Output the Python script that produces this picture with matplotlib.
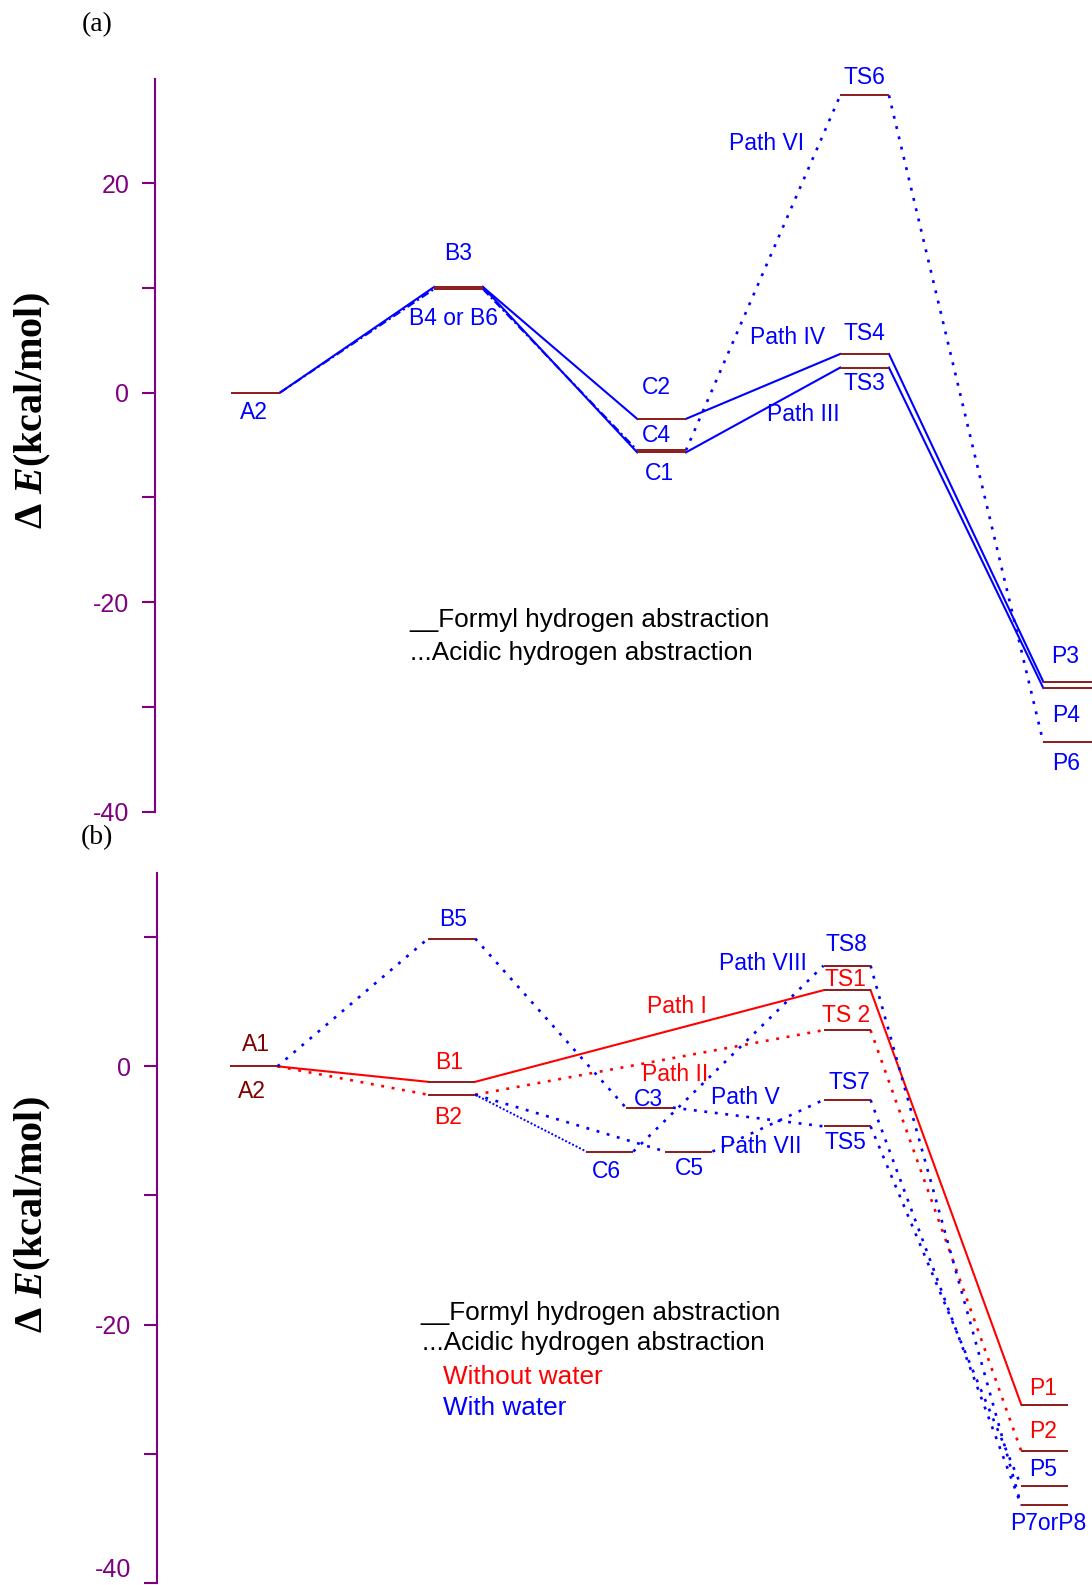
import matplotlib

matplotlib.use("Agg")
import matplotlib.pyplot as plt
from matplotlib.transforms import ScaledTranslation

PURPLE = "#800080"
BLUE = "#0000ff"
RED = "#ff0000"
LEVEL = "#8b1a1a"
DARKRED = "#800000"

plt.rcParams["font.family"] = ["Liberation Sans", "DejaVu Sans"]
plt.rcParams["mathtext.fontset"] = "custom"
plt.rcParams["mathtext.it"] = "Liberation Serif:italic:bold"
plt.rcParams["mathtext.rm"] = "Liberation Serif:bold"

# ---- panel (a): stationary points (reaction slot, energy in kcal/mol)
a_names = ["A2", "B3", "B46", "C2", "C4", "C1", "TS6", "TS4", "TS3", "P3", "P4", "P6"]
a_slot = [1, 2, 2, 3, 3, 3, 4, 4, 4, 5, 5, 5]
a_energy = [0.0, 10.1, 9.9, -2.5, -5.5, -5.7, 28.4, 3.7, 2.4, -27.6, -28.2, -33.4]

# connections: (from, to, style)
a_links = [
    ("A2", "B3", "solid"), ("B3", "C2", "solid"), ("B3", "C1", "solid"),
    ("C2", "TS4", "solid"), ("C1", "TS3", "solid"),
    ("TS4", "P3", "solid"), ("TS3", "P4", "solid"),
    ("A2", "B46", "dashdot"), ("B46", "C4", "dashdot"),
    ("C4", "TS6", "dot"), ("TS6", "P6", "dot"),
]

# ---- panel (b)
b_names = ["A", "B5", "B1", "B2", "C6", "C3", "C5", "TS8", "TS1", "TS2", "TS7", "TS5",
           "P1", "P2", "P5", "P78"]
b_slot = [1, 2, 2, 2, 2.8, 3.0, 3.2, 4, 4, 4, 4, 4, 5, 5, 5, 5]
b_energy = [0.0, 9.9, -1.2, -2.2, -6.6, -3.2, -6.6, 7.8, 5.9, 2.8, -2.6, -4.65,
            -26.2, -29.8, -32.5, -34.0]

b_links = [
    ("A", "B1", "solid", RED), ("B1", "TS1", "solid", RED), ("TS1", "P1", "solid", RED),
    ("A", "B2", "dot", RED), ("B2", "TS2", "dot", RED), ("TS2", "P2", "dot", RED),
    ("A", "B5", "dot", BLUE), ("B5", "C3", "dot", BLUE), ("C3", "TS5", "dot", BLUE),
    ("TS5", "P5", "dot", BLUE),
    ("B2", "C5", "dot", BLUE), ("C5", "TS7", "dot", BLUE), ("TS7", "P78", "dot", BLUE),
    ("B2", "C6", "finedot", BLUE), ("C6", "TS8", "dot", BLUE), ("TS8", "P78", "dot", BLUE),
]

STYLES = {
    "solid": dict(ls="-", lw=1.5),
    "dot": dict(ls=(0, (1.1, 2.9)), lw=1.9),
    "finedot": dict(ls=(0, (1.0, 1.0)), lw=1.4),
    "dashdot": dict(ls=(0, (4, 1.6, 1, 1.6)), lw=1.5),
}

# label layout (text, x, y, color) in data coordinates
a_text = [
    ("A2", 0.99, -1.9, BLUE), ("B3", 2.0, 13.3, BLUE), ("B4 or B6", 1.973, 7.1, BLUE),
    ("C2", 2.973, 0.5, BLUE), ("C4", 2.973, -4.1, BLUE), ("C1", 2.99, -7.7, BLUE),
    ("TS6", 4.0, 30.1, BLUE), ("TS4", 4.0, 5.7, BLUE), ("TS3", 4.0, 0.9, BLUE),
    ("Path VI", 3.515, 23.8, BLUE), ("Path IV", 3.623, 5.25, BLUE),
    ("Path III", 3.697, -2.1, BLUE),
    ("P3", 4.99, -25.2, BLUE), ("P4", 4.99, -30.8, BLUE), ("P6", 4.995, -35.4, BLUE),
]
b_text = [
    ("A1", 1.01, 1.68, DARKRED), ("A2", 0.99, -1.92, DARKRED),
    ("B5", 2.008, 11.35, BLUE), ("B1", 1.986, 0.3, RED), ("B2", 1.981, -4.0, RED),
    ("C3", 2.994, -2.54, BLUE), ("C6", 2.783, -8.11, BLUE), ("C5", 3.204, -7.9, BLUE),
    ("TS8", 3.996, 9.47, BLUE), ("TS1", 3.993, 6.7, RED), ("TS 2", 3.994, 3.9, RED),
    ("TS7", 4.01, -1.22, BLUE), ("TS5", 3.994, -5.9, BLUE),
    ("Path VIII", 3.576, 8.0, BLUE), ("Path I", 3.14, 4.6, RED),
    ("Path II", 3.128, -0.62, RED), ("Path V", 3.488, -2.45, BLUE),
    ("Path VII", 3.563, -6.24, BLUE),
    ("P1", 4.993, -24.96, RED), ("P2", 4.993, -28.3, RED), ("P5", 4.99, -31.26, BLUE),
    ("P7orP8", 5.018, -35.4, BLUE),
]
a_legend = [("__Formyl hydrogen abstraction", 1.759, -21.7, "black"),
            ("...Acidic hydrogen abstraction", 1.759, -24.9, "black")]
b_legend = [("__Formyl hydrogen abstraction", 1.843, -19.12, "black"),
            ("...Acidic hydrogen abstraction", 1.848, -21.45, "black"),
            ("Without water", 1.958, -24.03, RED),
            ("With water", 1.958, -26.5, BLUE)]


def style_axis(ax, ylim, xlim, ticks):
    ax.set_xlim(*xlim)
    ax.set_ylim(*ylim)
    for s in ("top", "right", "bottom"):
        ax.spines[s].set_visible(False)
    ax.spines["left"].set_color(PURPLE)
    ax.spines["left"].set_linewidth(1.5)
    ax.set_xticks([])
    ax.set_yticks(ticks)
    ax.set_yticklabels([str(t) if t % 20 == 0 else "" for t in ticks])
    ax.tick_params(axis="y", direction="out", length=9.5, width=1.5, color=PURPLE,
                   labelcolor=PURPLE, labelsize=18, pad=9)
    ax.patch.set_alpha(0)


def draw(ax, names, slot, energy, links, half, default_color=BLUE):
    pos = {n: (x, e) for n, x, e in zip(names, slot, energy)}
    for lk in links:
        a, b, st = lk[:3]
        col = lk[3] if len(lk) > 3 else default_color
        xa, ea = pos[a]
        xb, eb = pos[b]
        ax.plot([xa + half, xb - half], [ea, eb], color=col, clip_on=False,
                **STYLES[st])
    for x, e in zip(slot, energy):
        ax.plot([x - half, x + half], [e, e], color=LEVEL, lw=1.4, clip_on=False,
                solid_capstyle="butt", zorder=3)


def texts(ax, items, ha="center", size=16.5):
    for t, x, y, c in items:
        ax.text(x, y, t, color=c, ha=ha, va="center", fontsize=size, clip_on=False)


fig = plt.figure(figsize=(10.92, 15.85), dpi=100)
W, H = 1092.0, 1585.0

ax_a = fig.add_axes([155 / W, 1 - 811.5 / H, (W - 155) / W, (811.5 - 78.6) / H])
style_axis(ax_a, (-40, 30), (0.505, 5.12), [-40, -30, -20, -10, 0, 10, 20])
draw(ax_a, a_names, a_slot, a_energy, a_links, 0.12)
texts(ax_a, a_text)
texts(ax_a, a_legend, ha="left", size=18.8)

ax_b = fig.add_axes([156.7 / W, 1 - 1582.7 / H, (W - 156.7) / W, (1582.7 - 872.7) / H])
style_axis(ax_b, (-40, 15), (0.508, 5.239), [-40, -30, -20, -10, 0, 10])
draw(ax_b, b_names, b_slot, b_energy, b_links, 0.119)
texts(ax_b, b_text)
texts(ax_b, b_legend, ha="left", size=18.8)

# keep the bottom tick label of (b) inside the picture
fig.canvas.draw()
lab40 = ax_b.get_yticklabels()[0]
lab40.set_transform(lab40.get_transform() + ScaledTranslation(0, 0.15, fig.dpi_scale_trans))

for lab, yc in (("(a)", 25), ("(b)", 838)):
    fig.text(97 / W, 1 - yc / H, lab, ha="center", va="center", fontsize=20,
             family="Liberation Serif")
for yc in (411, 1215):
    fig.text(33 / W, 1 - yc / H, "Δ $E$(kcal/mol)", rotation=90, ha="center",
             va="center", fontsize=29, family="Liberation Serif", weight="bold")

fig.savefig("out.png", dpi=100)
